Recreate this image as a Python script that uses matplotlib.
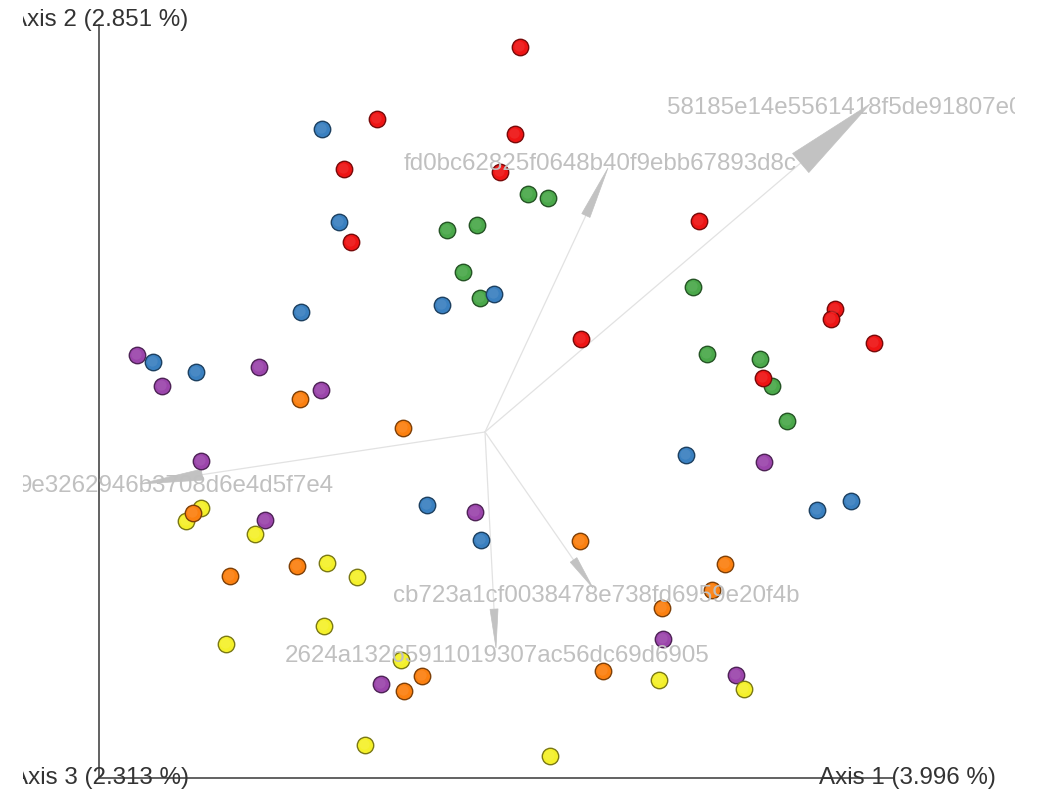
import numpy as np
import matplotlib
matplotlib.use('Agg')
import matplotlib.pyplot as plt
from matplotlib.patches import Polygon
from matplotlib.colors import to_rgb

plt.rcParams['font.family'] = ['Liberation Sans', 'DejaVu Sans']

# --- sample coordinates (Axis 1, Axis 2), grouped by category ---
red_x = [0.035, -0.108, 0.030, -0.141, 0.015, -0.134, 0.214, 0.096, 0.350, 0.346, 0.389, 0.278]
red_y = [0.385, 0.313, 0.298, 0.263, 0.260, 0.190, 0.211, 0.093, 0.123, 0.113, 0.089, 0.054]

blue_x = [-0.163, -0.146, -0.043, 0.009, -0.184, -0.332, -0.289, 0.201, 0.332, 0.366, -0.058, -0.004]
blue_y = [0.303, 0.210, 0.127, 0.138, 0.120, 0.070, 0.060, -0.023, -0.078, -0.069, -0.073, -0.108]

green_x = [0.043, 0.063, -0.038, -0.008, -0.022, -0.005, 0.208, 0.222, 0.275, 0.287, 0.302]
green_y = [0.238, 0.234, 0.202, 0.207, 0.160, 0.134, 0.145, 0.078, 0.073, 0.046, 0.011]

purple_x = [-0.348, -0.323, -0.226, -0.164, -0.284, -0.220, -0.010, 0.279, 0.178, -0.104, 0.251]
purple_y = [0.077, 0.046, 0.065, 0.042, -0.029, -0.088, -0.080, -0.030, -0.207, -0.252, -0.243]

orange_x = [-0.185, -0.082, -0.292, -0.255, -0.188, 0.095, 0.240, 0.227, 0.177, 0.118, -0.063, -0.081]
orange_y = [0.033, 0.004, -0.081, -0.144, -0.134, -0.109, -0.132, -0.158, -0.176, -0.239, -0.244, -0.259]

yellow_x = [-0.284, -0.299, -0.230, -0.158, -0.128, -0.161, -0.259, -0.084, 0.174, 0.259, -0.120, 0.065]
yellow_y = [-0.076, -0.089, -0.102, -0.131, -0.145, -0.194, -0.212, -0.228, -0.248, -0.257, -0.313, -0.324]

# --- feature arrows (biplot) ---
arrow_names = ['58185e14e5561418f5de91807e0',
               'fd0bc62825f0648b40f9ebb67893d8c',
               '9e3262946b3708d6e4d5f7e4',
               'cb723a1cf0038478e738fd6959e20f4b',
               '2624a13265911019307ac56dc69d6905']
arrow_x = [0.385, 0.123, -0.345, 0.108, 0.011]
arrow_y = [0.328, 0.264, -0.052, -0.156, -0.216]
label_x = [0.360, 0.115, -0.309, 0.111, 0.012]
label_y = [0.324, 0.268, -0.054, -0.164, -0.224]

axis_labels = ['Axis 1 (3.996 %)', 'Axis 2 (2.851 %)', 'Axis 3 (2.313 %)']

# --- figure ---
fig = plt.figure(figsize=(10.45, 7.92), dpi=100)
# the 3d canvas is narrower than the image: text gets cut at its edges
ax = fig.add_axes([23 / 1045, 0, (1015 - 23) / 1045, 1])
ax.set_xlim(-0.462, 0.530)
ax.set_ylim(-0.360, 0.432)
ax.set_axis_off()

# axes of the 3d scene
ox, oy = -0.386, -0.346
ax.plot([ox, ox], [oy, 0.407], color='#555555', lw=1.3, zorder=1)
ax.plot([ox, 0.408], [oy, oy], color='#555555', lw=1.3, zorder=1)
txt_kw = dict(fontsize=17.4, color='#333333', ha='center', va='center', clip_on=True, zorder=6)
ax.text(0.422, oy, axis_labels[0], **txt_kw)
ax.text(ox + 0.001, 0.412, axis_labels[1], **txt_kw)
ax.text(ox + 0.001, oy, axis_labels[2], **txt_kw)

# arrows: thin shaft + cone head
cone_frac = 0.82
cone_w = [0.0125, 0.0045, 0.0055, 0.004, 0.004]
for tx, ty, w in zip(arrow_x, arrow_y, cone_w):
    bx, by = tx * cone_frac, ty * cone_frac
    ax.plot([0, bx], [0, by], color='#e2e2e2', lw=0.9, zorder=2)
    d = np.array([tx - bx, ty - by])
    n = np.array([-d[1], d[0]]) / np.hypot(*d)
    poly = Polygon([(bx + n[0] * w, by + n[1] * w), (tx, ty), (bx - n[0] * w, by - n[1] * w)],
                   closed=True, facecolor='#c2c2c2', edgecolor='#c2c2c2', lw=0.5, zorder=2)
    ax.add_patch(poly)

for name, lx, ly in zip(arrow_names, label_x, label_y):
    ax.text(lx, ly, name, fontsize=17.4, color='#c0c0c0', ha='center', va='center',
            clip_on=True, zorder=5)

# points as shaded spheres
groups = [
    (purple_x, purple_y, '#9b45ab'),
    (yellow_x, yellow_y, '#f4f02a'),
    (green_x, green_y, '#4aa84a'),
    (blue_x, blue_y, '#3a80c0'),
    (orange_x, orange_y, '#fb8010'),
    (red_x, red_y, '#ee1414'),
]
for gx, gy, c in groups:
    rgb = np.array(to_rgb(c))
    ax.scatter(gx, gy, s=140, color=c, edgecolors=rgb * 0.5, linewidths=1.0, zorder=4)
    ax.scatter(np.array(gx) - 0.0012, np.array(gy) + 0.0012, s=55,
               color=np.clip(rgb * 0.85 + 0.15, 0, 1), linewidths=0, alpha=0.5, zorder=4)

fig.savefig('out.png', dpi=100, facecolor='white')
